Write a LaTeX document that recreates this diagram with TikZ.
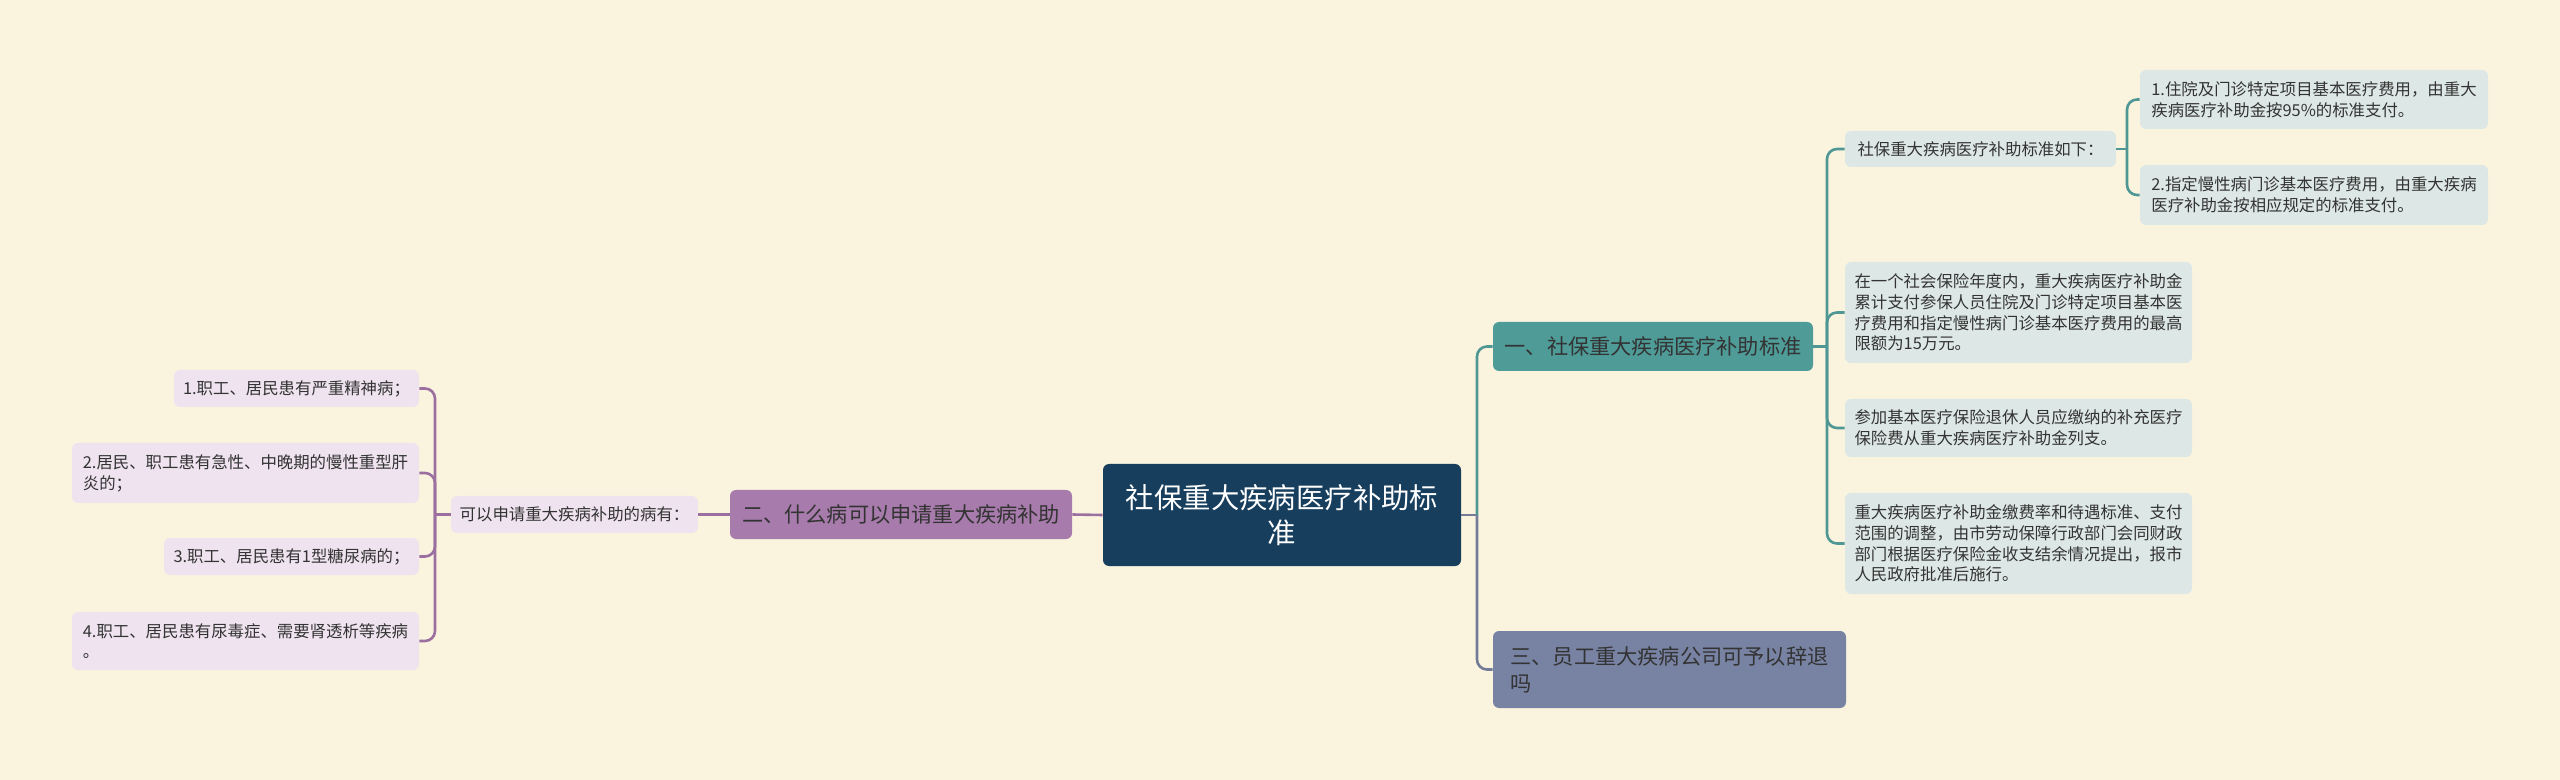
\documentclass[tikz,border=0pt]{standalone}
\usepackage{fontspec}
\newfontfamily\cjk{Noto Sans CJK SC}
\usepackage{xcolor}
\definecolor{fundo}{HTML}{FAF4DF}
\definecolor{azulraiz}{HTML}{173E5D}
\definecolor{verdeagua}{HTML}{4E9B98}
\definecolor{verdeclaro}{HTML}{DDE8E6}
\definecolor{linhaverde}{HTML}{4F9794}
\definecolor{roxo}{HTML}{A77BAB}
\definecolor{roxoclaro}{HTML}{EEE3EE}
\definecolor{linharoxo}{HTML}{9B70A0}
\definecolor{ardosia}{HTML}{7883A4}
\definecolor{linhaardosia}{HTML}{737B98}
\definecolor{texto}{HTML}{333333}
\tikzset{
  caixa/.style={
    rounded corners=3pt, inner sep=0pt, align=left, text=texto
  },
  ramo/.style={caixa, font=\cjk\fontsize{10.6}{13.4}\selectfont},
  folha/.style={caixa, font=\cjk\fontsize{8.2}{10.4}\selectfont},
  folhaV/.style={folha, fill=verdeclaro},
  folhaR/.style={folha, fill=roxoclaro},
}

\begin{document}
\begin{tikzpicture}[
    x=0.5pt, y=-0.5pt,
    raiz/.style={
        fill=azulraiz,
        rounded corners=3pt,
        inner sep=0pt,
        align=center,
        text=white,
        font=\cjk\fontsize{14.2}{17.5}\selectfont
    },
    liga/.style={
        line width=1.3pt,
        rounded corners=5pt
    }
]

\fill[fundo] (0,0) rectangle (2560,780);
\useasboundingbox (0,0) rectangle (2560,780);

% =================================================
% CENTRO
% =================================================

\node[
    raiz,
    minimum width=179pt,
    minimum height=51pt
] (raiz) at (1282,515)
{社保重大疾病医疗补助标\\准};


% =================================================
% RAMO 1 - PADRAO DE SUBSIDIO
% =================================================

\node[ramo, fill=verdeagua, minimum width=160pt, minimum height=24.5pt]
    (b1) at (1653,346.5)
    {一、社保重大疾病医疗补助标准};

\node[folhaV, minimum width=135.5pt, minimum height=18pt]
    (r1) at (1980.5,149)
    {社保重大疾病医疗补助标准如下：};

\node[folhaV, minimum width=174pt, minimum height=29.5pt]
    (r1a) at (2314,99.5)
    {1.住院及门诊特定项目基本医疗费用，由重大\\疾病医疗补助金按95\%的标准支付。};

\node[folhaV, minimum width=174pt, minimum height=30pt]
    (r1b) at (2314,195)
    {2.指定慢性病门诊基本医疗费用，由重大疾病\\医疗补助金按相应规定的标准支付。};

\node[folhaV, minimum width=173.5pt, minimum height=50.5pt]
    (r2) at (2018.5,312.5)
    {在一个社会保险年度内，重大疾病医疗补助金\\累计支付参保人员住院及门诊特定项目基本医\\疗费用和指定慢性病门诊基本医疗费用的最高\\限额为15万元。};

\node[folhaV, minimum width=173.5pt, minimum height=29pt]
    (r3) at (2018.5,428)
    {参加基本医疗保险退休人员应缴纳的补充医疗\\保险费从重大疾病医疗补助金列支。};

\node[folhaV, minimum width=173.5pt, minimum height=50.5pt]
    (r4) at (2018.5,543.5)
    {重大疾病医疗补助金缴费率和待遇标准、支付\\范围的调整，由市劳动保障行政部门会同财政\\部门根据医疗保险金收支结余情况提出，报市\\人民政府批准后施行。};


% =================================================
% RAMO 2 - DOENCAS
% =================================================

\node[ramo, fill=roxo, minimum width=171pt, minimum height=24.5pt]
    (b2) at (901,514.5)
    {二、什么病可以申请重大疾病补助};

\node[folhaR, minimum width=123.5pt, minimum height=18.5pt]
    (ls) at (574.5,514.5)
    {可以申请重大疾病补助的病有：};

\node[folhaR, minimum width=122.5pt, minimum height=18.5pt]
    (l1) at (296.5,388.5)
    {1.职工、居民患有严重精神病；};

\node[folhaR, minimum width=173.5pt, minimum height=30pt]
    (l2) at (245.5,473)
    {2.居民、职工患有急性、中晚期的慢性重型肝\\炎的；};

\node[folhaR, minimum width=127.5pt, minimum height=18.5pt]
    (l3) at (291.5,556.5)
    {3.职工、居民患有1型糖尿病的；};

\node[folhaR, minimum width=173.5pt, minimum height=29pt]
    (l4) at (245.5,641)
    {4.职工、居民患有尿毒症、需要肾透析等疾病\\。};


% =================================================
% RAMO 3 - DEMISSAO
% =================================================

\node[ramo, fill=ardosia, minimum width=176.5pt, minimum height=38.5pt]
    (b3) at (1669.5,669.5)
    {三、员工重大疾病公司可予以辞退\\吗};


% =================================================
% LIGACOES
% =================================================

\coordinate (jr) at (1477,515);
\coordinate (j1) at (1827,346.5);
\coordinate (j2) at (2127,149);
\coordinate (jl) at (435,514.5);

% direita
\draw[liga, linhaardosia] (raiz.east) -- (jr);
\draw[liga, linhaverde] (jr) |- (b1.west);
\draw[liga, linhaardosia] (jr) |- (b3.west);

\draw[liga, linhaverde] (b1.east) -- (j1);
\draw[liga, linhaverde] (j1) |- (r1.west);
\draw[liga, linhaverde] (j1) |- (r2.west);
\draw[liga, linhaverde] (j1) |- (r3.west);
\draw[liga, linhaverde] (j1) |- (r4.west);

\draw[liga, linhaverde] (r1.east) -- (j2);
\draw[liga, linhaverde] (j2) |- (r1a.west);
\draw[liga, linhaverde] (j2) |- (r1b.west);

% esquerda
\draw[liga, linharoxo] (raiz.west) -- (b2.east);
\draw[liga, linharoxo] (b2.west) -- (ls.east);
\draw[liga, linharoxo] (ls.west) -- (jl);
\draw[liga, linharoxo] (jl) |- (l1.east);
\draw[liga, linharoxo] (jl) |- (l2.east);
\draw[liga, linharoxo] (jl) |- (l3.east);
\draw[liga, linharoxo] (jl) |- (l4.east);

\end{tikzpicture}
\end{document}
